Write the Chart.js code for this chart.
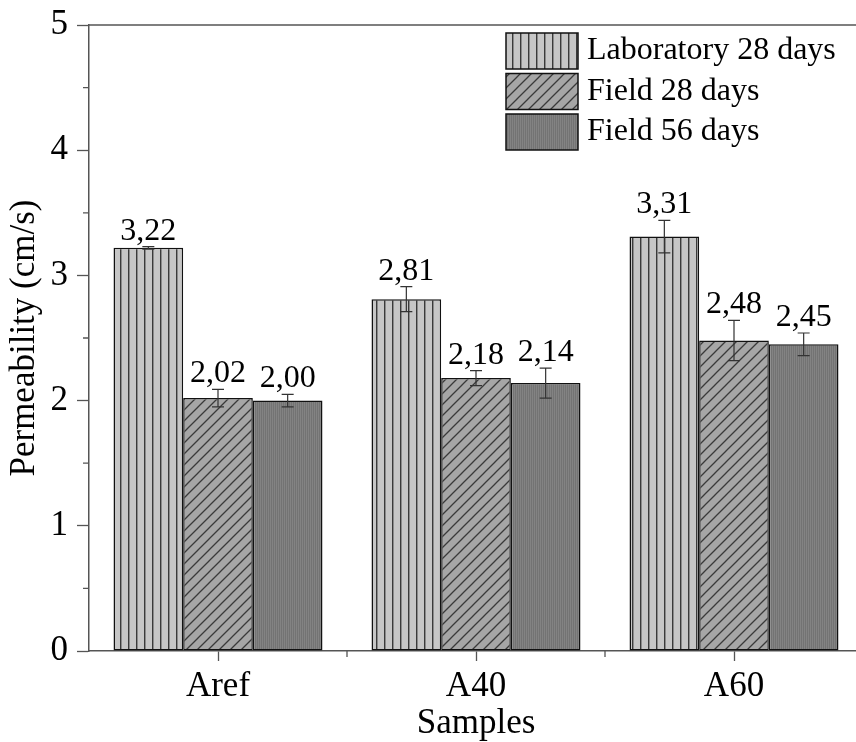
<!DOCTYPE html>
<html><head><meta charset="utf-8">
<script src="https://cdn.jsdelivr.net/npm/chart.js@4.4.0/dist/chart.umd.min.js"></script>
<style>
html,body{margin:0;padding:0;background:#fff;overflow:hidden;width:856px;height:742px;}
#wrap{width:870px;height:742px;position:relative;}
canvas{display:block;}
</style></head><body>
<div id="wrap"><canvas id="c" width="870" height="742"></canvas></div>
<script>
// ---- data ----
const categories = ['Aref', 'A40', 'A60'];
const seriesNames = ['Laboratory 28 days', 'Field 28 days', 'Field 56 days'];
const lab28 = [3.22, 2.81, 3.31];
const field28 = [2.02, 2.18, 2.48];
const field56 = [2.00, 2.14, 2.45];
const lab28Err = [0.01, 0.10, 0.13];
const field28Err = [0.07, 0.06, 0.16];
const field56Err = [0.05, 0.12, 0.09];
const yTickValues = [0, 1, 2, 3, 4, 5];

const SERIF = "'Liberation Serif', 'Times New Roman', serif";

function makePattern(kind) {
  const c = document.createElement('canvas');
  const g = c.getContext('2d');
  if (kind === 'vert') {
    c.width = 8; c.height = 8;
    g.fillStyle = '#c6c6c6'; g.fillRect(0, 0, 8, 8);
    g.fillStyle = '#3a3a3a'; g.fillRect(0, 0, 1, 8);
    g.fillStyle = '#8a8a8a'; g.fillRect(1, 0, 1, 8);
  } else if (kind === 'diag') {
    const s = 11;
    c.width = s; c.height = s;
    g.fillStyle = '#a6a6a6'; g.fillRect(0, 0, s, s);
    g.strokeStyle = '#3a3a3a'; g.lineWidth = 1.3;
    g.beginPath();
    g.moveTo(0, s); g.lineTo(s, 0);
    g.moveTo(-2, 2); g.lineTo(2, -2);
    g.moveTo(s - 2, s + 2); g.lineTo(s + 2, s - 2);
    g.stroke();
  } else {
    c.width = 2; c.height = 2;
    g.fillStyle = '#838383'; g.fillRect(0, 0, 1, 2);
    g.fillStyle = '#737373'; g.fillRect(1, 0, 1, 2);
  }
  return document.getElementById('c').getContext('2d').createPattern(c, 'repeat');
}
const fills = [makePattern('vert'), makePattern('diag'), makePattern('fine')];
const values = [lab28, field28, field56];
const errors = [lab28Err, field28Err, field56Err];

const decorations = {
  id: 'decorations',
  afterDatasetsDraw(chart) {
    const ctx = chart.ctx;
    const ys = chart.scales.y;
    ctx.save();
    chart.data.datasets.forEach((ds, di) => {
      const meta = chart.getDatasetMeta(di);
      meta.data.forEach((bar, i) => {
        const v = ds.data[i], e = errors[di][i];
        const yt = ys.getPixelForValue(v + e);
        const yb = ys.getPixelForValue(v - e);
        ctx.strokeStyle = '#333';
        ctx.lineWidth = 1.2;
        ctx.beginPath();
        ctx.moveTo(bar.x, yt); ctx.lineTo(bar.x, yb);
        ctx.moveTo(bar.x - 6, yt); ctx.lineTo(bar.x + 6, yt);
        ctx.moveTo(bar.x - 6, yb); ctx.lineTo(bar.x + 6, yb);
        ctx.stroke();
        ctx.fillStyle = '#000';
        ctx.font = '32px ' + SERIF;
        ctx.textAlign = 'center';
        ctx.textBaseline = 'alphabetic';
        ctx.fillText(v.toFixed(2).replace('.', ','), bar.x, yt - 7);
      });
    });
    ctx.restore();
  },
  afterDraw(chart) {
    const ctx = chart.ctx;
    const a = chart.chartArea;
    const xs = chart.scales.x, ys = chart.scales.y;
    ctx.save();
    ctx.strokeStyle = '#555';
    ctx.lineWidth = 1.5;
    // frame top & right
    ctx.beginPath();
    ctx.moveTo(a.left, a.top); ctx.lineTo(a.right, a.top); ctx.lineTo(a.right, a.bottom);
    ctx.stroke();
    // y minor ticks
    ctx.lineWidth = 1.3;
    ctx.beginPath();
    for (let k = 0; k < yTickValues.length - 1; k++) {
      const yv = ys.getPixelForValue((yTickValues[k] + yTickValues[k + 1]) / 2);
      ctx.moveTo(a.left - 6, yv); ctx.lineTo(a.left, yv);
    }
    // x minor ticks at category boundaries
    const half = (xs.getPixelForValue(1) - xs.getPixelForValue(0)) / 2;
    for (let i = 1; i < categories.length; i++) {
      const xb = xs.getPixelForValue(i) - half;
      ctx.moveTo(xb, a.bottom); ctx.lineTo(xb, a.bottom + 6);
    }
    ctx.stroke();
    // legend
    const lx = a.right - 357, ly = a.top + 8, bw = 72, bh = 36, pitch = 40.5;
    chart.data.datasets.forEach((ds, di) => {
      const top = ly + di * pitch;
      ctx.fillStyle = ds.backgroundColor;
      ctx.fillRect(lx, top, bw, bh);
      ctx.strokeStyle = '#111';
      ctx.lineWidth = 1.5;
      ctx.strokeRect(lx, top, bw, bh);
      ctx.fillStyle = '#000';
      ctx.font = '32px ' + SERIF;
      ctx.textAlign = 'left';
      ctx.textBaseline = 'middle';
      ctx.fillText(ds.label, lx + bw + 9, top + bh / 2);
    });
    ctx.restore();
  }
};

new Chart(document.getElementById('c'), {
  type: 'bar',
  data: {
    labels: categories,
    datasets: seriesNames.map((name, di) => ({
      label: name,
      data: values[di],
      backgroundColor: fills[di],
      borderColor: '#111',
      borderWidth: 1.5,
      borderSkipped: false,
      categoryPercentage: 0.81,
      barPercentage: 1.0
    }))
  },
  options: {
    responsive: false,
    animation: false,
    layout: { padding: { left: 0, top: 25, right: 7, bottom: 0 } },
    plugins: { legend: { display: false }, tooltip: { enabled: false } },
    scales: {
      x: {
        type: 'category',
        offset: true,
        grid: { offset: false, drawOnChartArea: false, drawTicks: true, tickLength: 10, tickColor: '#555', tickWidth: 1.3 },
        border: { display: true, color: '#555', width: 1.5 },
        ticks: { font: { family: SERIF, size: 35 }, color: '#000', padding: 5, maxRotation: 0 },
        title: { display: true, text: 'Samples', font: { family: SERIF, size: 35, lineHeight: 1.05 }, color: '#000', padding: 0 },
        afterFit(s) { s.height = 91; s.paddingLeft = 0; s.paddingRight = 0; }
      },
      y: {
        min: 0, max: 5,
        grid: {
          drawOnChartArea: false, drawTicks: true, tickLength: 12, tickWidth: 1.3,
          tickColor: (c) => Number.isInteger(c.tick.value) ? '#555' : 'rgba(0,0,0,0)'
        },
        border: { display: true, color: '#555', width: 1.5 },
        ticks: {
          stepSize: 0.5,
          font: { family: SERIF, size: 35 }, color: '#000', padding: 9,
          callback: (v) => yTickValues.includes(v) ? String(v) : ''
        },
        title: { display: true, text: 'Permeability (cm/s)', font: { family: SERIF, size: 35 }, color: '#000', padding: { top: 4, bottom: 0 } },
        afterFit(s) { s.width = 89; s.paddingTop = 0; s.paddingBottom = 0; }
      }
    }
  },
  plugins: [decorations]
});
</script>
</body></html>
